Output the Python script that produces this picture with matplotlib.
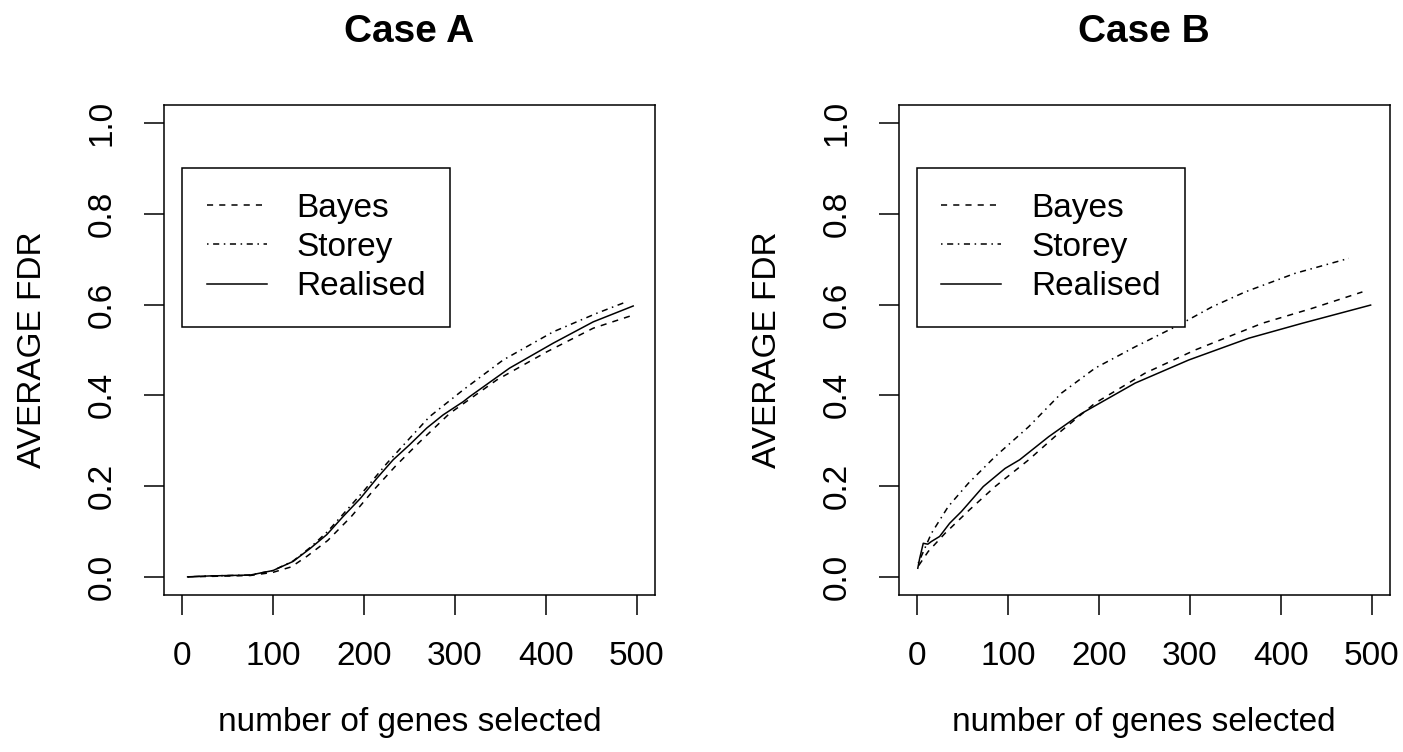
import matplotlib
matplotlib.use("Agg")
from matplotlib import pyplot as plt

plt.rcParams['font.family'] = ['Liberation Sans', 'DejaVu Sans']

# Case A
a_real_x = [6, 30, 75, 100, 122, 141, 159, 177, 196, 214, 232, 250, 269, 287, 309, 316, 360, 408, 452, 496]
a_real_y = [0.0, 0.002, 0.004, 0.014, 0.034, 0.063, 0.093, 0.133, 0.173, 0.217, 0.258, 0.291, 0.328, 0.357, 0.386, 0.397, 0.46, 0.515, 0.562, 0.597]
a_bayes_x = [6, 30, 75, 100, 120, 137, 160, 186, 210, 235, 260, 294, 346, 401, 452, 496]
a_bayes_y = [0.0, 0.001, 0.003, 0.01, 0.022, 0.045, 0.08, 0.133, 0.19, 0.245, 0.295, 0.36, 0.434, 0.496, 0.548, 0.577]
a_storey_x = [6, 30, 75, 100, 122, 141, 160, 180, 200, 225, 250, 272, 309, 353, 408, 456, 487]
a_storey_y = [0.0, 0.002, 0.004, 0.014, 0.035, 0.065, 0.1, 0.145, 0.19, 0.25, 0.305, 0.353, 0.412, 0.478, 0.54, 0.581, 0.605]

# Case B
b_real_x = [1, 3, 7, 12, 16, 25, 36, 49, 73, 97, 113, 145, 181, 240, 299, 365, 424, 499]
b_real_y = [0.019, 0.04, 0.074, 0.072, 0.078, 0.089, 0.118, 0.144, 0.199, 0.239, 0.258, 0.309, 0.36, 0.427, 0.478, 0.526, 0.559, 0.599]
b_bayes_x = [2, 12.5, 31, 58, 86, 123, 159, 196, 251, 306, 380, 435, 490]
b_bayes_y = [0.025, 0.056, 0.096, 0.148, 0.199, 0.258, 0.322, 0.383, 0.449, 0.5, 0.559, 0.592, 0.628]
b_storey_x = [1.5, 16, 34.5, 56.5, 86, 123, 159, 196, 240, 288, 324.5, 361, 416, 475]
b_storey_y = [0.03, 0.096, 0.155, 0.206, 0.265, 0.331, 0.405, 0.46, 0.507, 0.555, 0.595, 0.628, 0.669, 0.702]

labels = ['Bayes', 'Storey', 'Realised']
x_ticks = [0, 100, 200, 300, 400, 500]
y_ticks = [0.0, 0.2, 0.4, 0.6, 0.8, 1.0]

panels = [
    ('Case A', (a_bayes_x, a_bayes_y), (a_storey_x, a_storey_y), (a_real_x, a_real_y)),
    ('Case B', (b_bayes_x, b_bayes_y), (b_storey_x, b_storey_y), (b_real_x, b_real_y)),
]

fig = plt.figure(figsize=(14.03, 7.52), dpi=100)
lefts = [164 / 1403, 898.7 / 1403]
lw = 1.1
fs = 24

for left, (title, bayes, storey, real) in zip(lefts, panels):
    ax = fig.add_axes([left, 1 - 595 / 752, 491 / 1403, 490 / 752])
    ax.plot(bayes[0], bayes[1], color='black', lw=lw, dashes=(4.0, 4.0), label=labels[0])
    ax.plot(storey[0], storey[1], color='black', lw=lw, dashes=(1.0, 3.0, 4.0, 3.0), label=labels[1])
    ax.plot(real[0], real[1], color='black', lw=lw, label=labels[2])

    ax.set_xlim(-20, 520)
    ax.set_ylim(-0.04, 1.04)
    ax.set_xticks(x_ticks)
    ax.set_yticks(y_ticks)
    ax.set_xticklabels([str(v) for v in x_ticks])
    ax.set_yticklabels(['%.1f' % v for v in y_ticks], rotation=90, va='center')
    ax.tick_params(direction='out', length=14.4, width=lw, labelsize=fs, pad=19)
    ax.tick_params(axis='y', pad=19)
    for s in ax.spines.values():
        s.set_linewidth(lw)

    ax.set_title(title, fontsize=28, fontweight='bold', pad=45)
    ax.set_xlabel('number of genes selected', fontsize=fs, va='center')
    ax.xaxis.set_label_coords(0.5, -0.26)
    ax.set_ylabel('AVERAGE FDR', fontsize=fs, va='center')
    ax.yaxis.set_label_coords(-0.268, 0.5)

    leg = ax.legend(loc='upper left', bbox_to_anchor=(0.037, 0.871), borderaxespad=0,
                    fontsize=fs, handlelength=1.8, handletextpad=0.9, labelspacing=0.25,
                    borderpad=0.73, fancybox=False, framealpha=1, edgecolor='black')
    leg.get_frame().set_linewidth(lw)

fig.savefig('out.png', dpi=100)
